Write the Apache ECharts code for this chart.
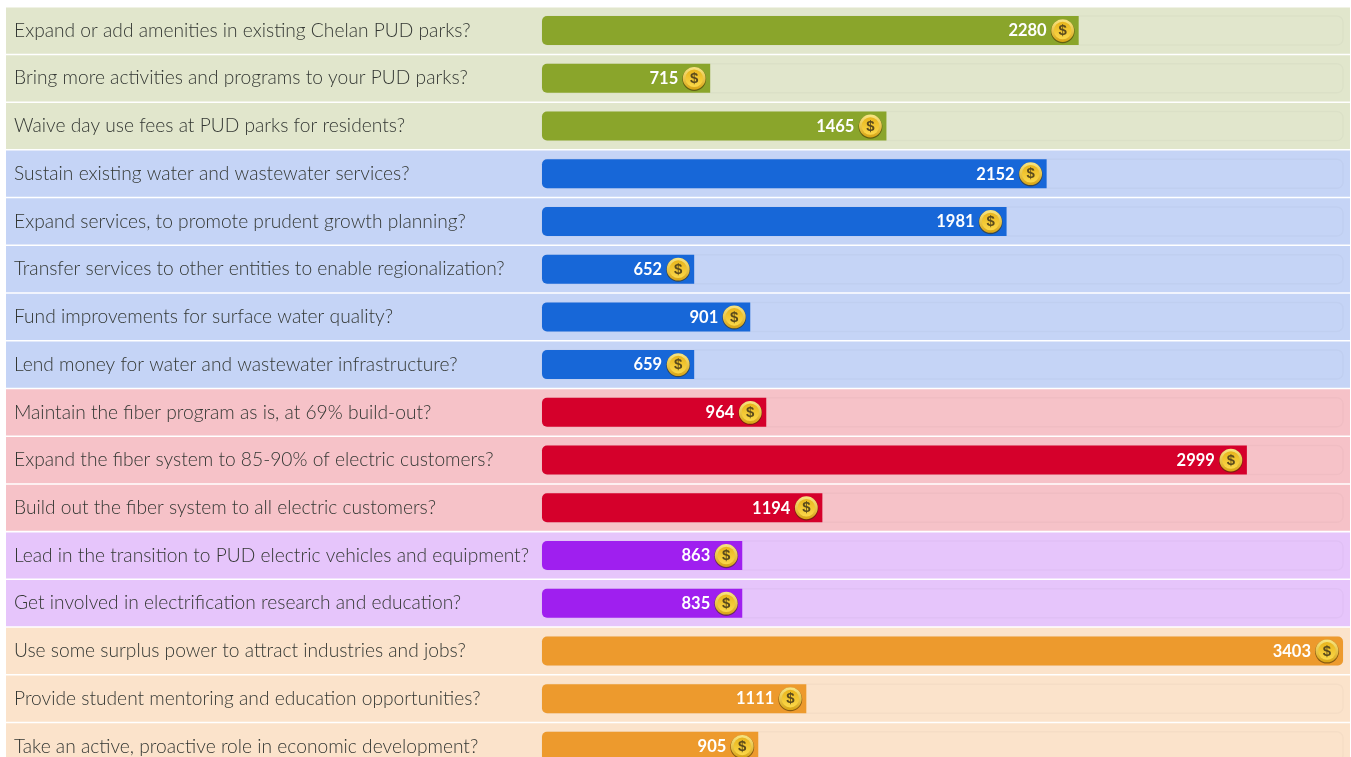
<!DOCTYPE html>
<html><head><meta charset="utf-8">
<style>html,body{margin:0;padding:0;background:#fff;overflow:hidden}#c{width:1351px;height:757px}</style>
<script src="https://cdn.jsdelivr.net/npm/echarts@6/dist/echarts.min.js"></script>
</head><body><div id="c"></div>
<script>
const questions = [
 "Expand or add amenities in existing Chelan PUD parks?",
 "Bring more activities and programs to your PUD parks?",
 "Waive day use fees at PUD parks for residents?",
 "Sustain existing water and wastewater services?",
 "Expand services, to promote prudent growth planning?",
 "Transfer services to other entities to enable regionalization?",
 "Fund improvements for surface water quality?",
 "Lend money for water and wastewater infrastructure?",
 "Maintain the fiber program as is, at 69% build-out?",
 "Expand the fiber system to 85-90% of electric customers?",
 "Build out the fiber system to all electric customers?",
 "Lead in the transition to PUD electric vehicles and equipment?",
 "Get involved in electrification research and education?",
 "Use some surplus power to attract industries and jobs?",
 "Provide student mentoring and education opportunities?",
 "Take an active, proactive role in economic development?"
];
const dollars = [2280,715,1465,2152,1981,652,901,659,964,2999,1194,863,835,3403,1111,905];
const groups = [0,0,0,1,1,1,1,1,2,2,2,3,3,4,4,4];
const rowColors = ['#e1e6cc','#c5d4f6','#f6c2c8','#e6c5fb','#fbe3cb'];
const barColors = ['#8aa52b','#1767d8','#d5002b','#9f1fef','#ed9a2d'];
const maxDollars = Math.max(...dollars);
// the original bars are sized in whole percent of the largest total
const percents = dollars.map(v => Math.round(v / maxDollars * 100));
const fontLabel = 'Lato';

const chart = echarts.init(document.getElementById('c'), null, {renderer:'canvas'});
const rowH = 47.72, gridTop = 6.7, gridH = rowH * questions.length;

function renderCoin(params, api){
  const p = api.coord([api.value(0), api.value(1)]);
  const i = params.dataIndex, cx = p[0] - 16, cy = p[1];
  const grad = (a,b)=>new echarts.graphic.LinearGradient(0,0,0,1,[{offset:0,color:a},{offset:1,color:b}]);
  return {type:'group',children:[
    {type:'circle',shape:{cx:cx,cy:cy+0.8,r:11.9},style:{fill:'rgba(70,50,0,0.6)'}},
    {type:'circle',shape:{cx:cx,cy:cy,r:11.4},style:{fill:grad('#f8e684','#d9a514')}},
    {type:'circle',shape:{cx:cx,cy:cy,r:8.8},style:{fill:grad('#e8b51c','#fbd84a')}},
    {type:'text',style:{x:cx,y:cy+0.5,text:'$',align:'center',verticalAlign:'middle',
       font:'bold 15px "Liberation Sans"',fill:'#5a4a1c'}},
    {type:'text',style:{x:cx-16,y:cy+0.5,text:String(dollars[i]),align:'right',verticalAlign:'middle',
       font:'700 16.5px "Lato"',fill:'#ffffff'}}
  ]};
}

chart.setOption({
  animation:false,
  grid:[
    {left:6,width:1344,top:gridTop,height:gridH,outerBoundsMode:'none'},
    {left:542,width:801,top:gridTop,height:gridH,outerBoundsMode:'none'}
  ],
  xAxis:[
    {gridIndex:0,type:'value',min:0,max:1,show:false},
    {gridIndex:1,type:'value',min:0,max:100,show:false}
  ],
  yAxis:[
    {gridIndex:0,type:'category',inverse:true,data:questions,show:false},
    {gridIndex:1,type:'category',inverse:true,data:questions,z:5,
     axisLine:{show:false},axisTick:{show:false},splitLine:{show:false},
     axisLabel:{show:true,interval:0,margin:528,align:'left',fontFamily:fontLabel,fontWeight:300,fontSize:19.2,color:'#333733'}}
  ],
  series:[
    {type:'bar',xAxisIndex:0,yAxisIndex:0,silent:true,barWidth:46.2,z:1,
     data:questions.map((q,i)=>({value:1,itemStyle:{color:rowColors[groups[i]]}}))},
    {type:'bar',xAxisIndex:1,yAxisIndex:1,silent:true,barWidth:29,z:2,
     showBackground:true,
     backgroundStyle:{color:'rgba(0,0,0,0)',borderColor:'rgba(0,0,0,0.025)',borderWidth:1.5,borderRadius:6},
     data:percents.map((v,i)=>({value:v,itemStyle:{color:barColors[groups[i]],
        borderRadius:v>=100?5:[5,0,0,5]}}))},
    {type:'custom',xAxisIndex:1,yAxisIndex:1,silent:true,z:3,clip:false,
     renderItem:renderCoin,encode:{x:0,y:1},
     data:percents.map((v,i)=>[v,i])}
  ]
});
</script></body></html>
